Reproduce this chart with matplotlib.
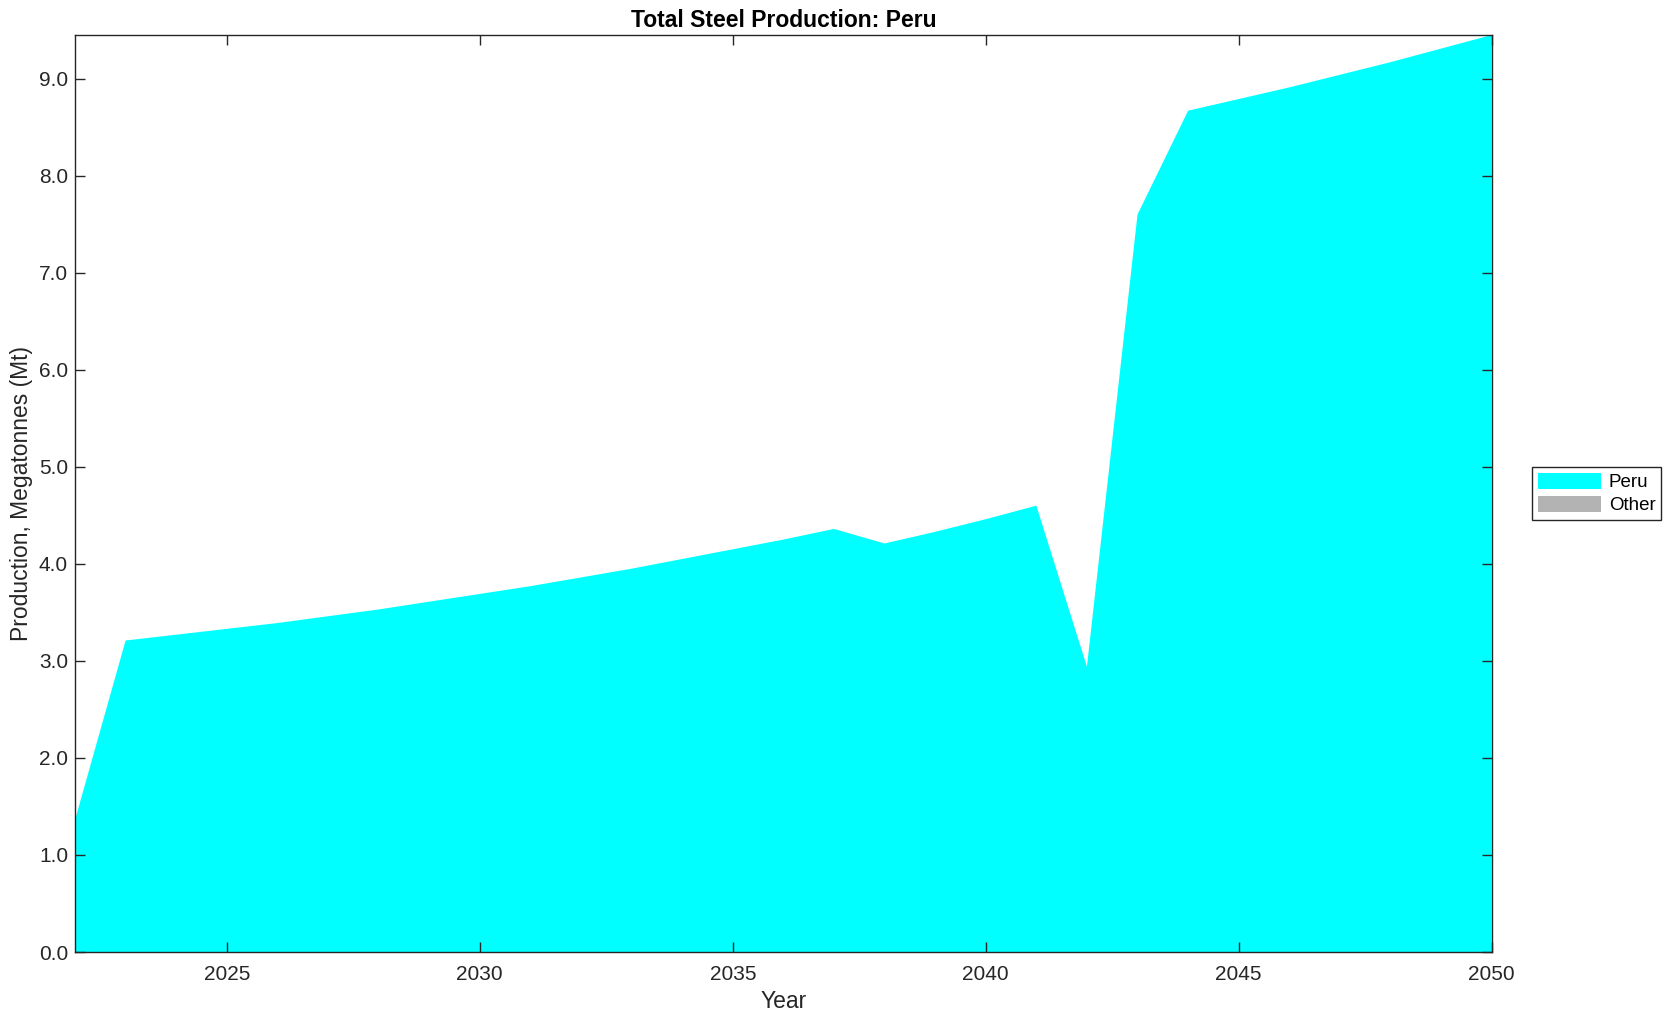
import matplotlib
matplotlib.use("Agg")
import matplotlib.pyplot as plt
import numpy as np

plt.rcParams['font.family'] = ['Liberation Sans', 'DejaVu Sans']

years = list(range(2022, 2051))
peru = [1.36, 3.21, 3.27, 3.33, 3.39, 3.46, 3.53, 3.61, 3.69, 3.77, 3.86,
        3.95, 4.05, 4.15, 4.25, 4.36, 4.21, 4.33, 4.46, 4.60, 2.94, 7.60,
        8.67, 8.79, 8.91, 9.04, 9.17, 9.31, 9.45]
other = [0.0] * len(years)
series_labels = ['Peru', 'Other']
series_colors = ['#00ffff', '#b3b3b3']
x_ticks = [2025, 2030, 2035, 2040, 2045, 2050]
y_ticks = [0, 1, 2, 3, 4, 5, 6, 7, 8, 9]

fig = plt.figure(figsize=(16.75, 10.21), dpi=100)
ax = fig.add_axes([75/1675, 69/1021, (1491.7-75)/1675, (952-35)/1021])

ax.stackplot(years, peru, other, labels=series_labels, colors=series_colors,
             linewidth=0)

ax.set_xlim(2022, 2050)
ax.set_ylim(0, max(np.array(peru) + np.array(other)))
ax.set_xticks(x_ticks)
ax.set_yticks(y_ticks)
ax.set_yticklabels([f"{v:.1f}" for v in y_ticks])
ax.tick_params(direction='in', length=7, width=1, labelsize=15, colors='#262626',
               top=True, right=True)
ax.tick_params(axis='x', pad=9)
ax.tick_params(axis='y', pad=5)
for s in ax.spines.values():
    s.set_linewidth(1.0)
    s.set_color('#262626')
    s.set_zorder(5)

ax.set_title('Total Steel Production: Peru', fontsize=16.5, fontweight='bold', pad=6)
ax.set_xlabel('Year', fontsize=16.5, color='#262626', labelpad=5)
ax.set_ylabel('Production, Megatonnes (Mt)', fontsize=16.5, color='#262626', labelpad=4)

leg = fig.legend(loc='upper left', bbox_to_anchor=(1532/1675, (1021-467)/1021),
                 bbox_transform=fig.transFigure, borderaxespad=0, fontsize=13.5,
                 fancybox=False, edgecolor='#262626', framealpha=1,
                 handlelength=3.4, handleheight=0.95, handletextpad=0.4,
                 borderpad=0.3, labelspacing=0.25)
leg.get_frame().set_linewidth(1.0)

fig.savefig('out.png', dpi=100)
